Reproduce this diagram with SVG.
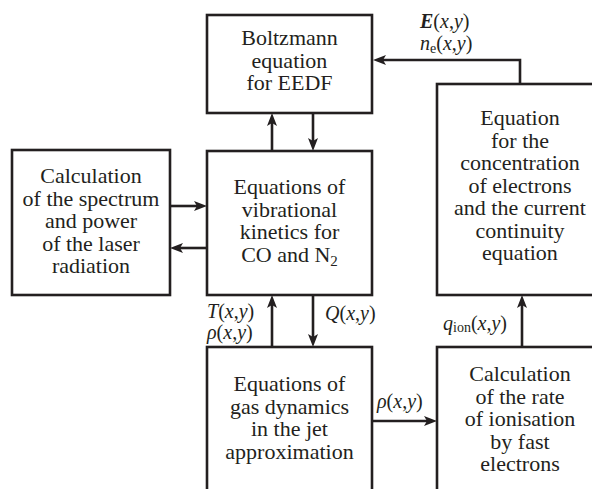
<svg xmlns="http://www.w3.org/2000/svg" width="592" height="489" viewBox="0 0 592 489">
<style>
.box{fill:#fff;stroke:#231f20;stroke-width:2.6}
.t{font-family:'Liberation Serif','DejaVu Serif','Times New Roman',serif;font-size:22px;fill:#231f20;text-anchor:middle}
.l{font-family:'Liberation Serif','DejaVu Serif','Times New Roman',serif;font-size:20px;fill:#231f20}
.c{fill:none;stroke:#231f20;stroke-width:2.6}
</style>
<defs>
<marker id="ah" markerUnits="userSpaceOnUse" markerWidth="14" markerHeight="11" refX="3" refY="5" orient="auto" viewBox="0 0 14 10">
<path d="M0,0 L13,5 L0,10 L3,5 Z" fill="#231f20"/>
</marker>
</defs>
<rect width="592" height="489" fill="#fff"/>
<g id="connectors">
<path class="c" d="M313,113 V141" marker-end="url(#ah)"/>
<path class="c" d="M272,151 V123" marker-end="url(#ah)"/>
<path class="c" d="M520,84 V60 H383" marker-end="url(#ah)"/>
<path class="c" d="M170,206 H197" marker-end="url(#ah)"/>
<path class="c" d="M207,248 H180" marker-end="url(#ah)"/>
<path class="c" d="M313,295 V337" marker-end="url(#ah)"/>
<path class="c" d="M272,347 V305" marker-end="url(#ah)"/>
<path class="c" d="M372,421 H427" marker-end="url(#ah)"/>
<path class="c" d="M522,347 V305" marker-end="url(#ah)"/>
</g>
<g id="boltzmann">
<rect class="box" x="207" y="15" width="165" height="98"/>
<text class="t" font-family="Liberation Serif, serif"><tspan x="289.5" y="45">Boltzmann</tspan><tspan x="289.5" y="67.5">equation</tspan><tspan x="289.5" y="90">for EEDF</tspan></text>
</g>
<g id="laser">
<rect class="box" x="12" y="150" width="158" height="145"/>
<text class="t" font-family="Liberation Serif, serif"><tspan x="91" y="183">Calculation</tspan><tspan x="91" y="205.5">of the spectrum</tspan><tspan x="91" y="228">and power</tspan><tspan x="91" y="250.5">of the laser</tspan><tspan x="91" y="273">radiation</tspan></text>
</g>
<g id="kinetics">
<rect class="box" x="207" y="151" width="165" height="144"/>
<text class="t" font-family="Liberation Serif, serif"><tspan x="289.5" y="194">Equations of</tspan><tspan x="289.5" y="216.5">vibrational</tspan><tspan x="289.5" y="239">kinetics for</tspan><tspan x="289.5" y="261.5">CO and N<tspan font-size="15" dy="4">2</tspan></tspan></text>
</g>
<g id="electrons">
<rect class="box" x="437" y="84" width="200" height="211"/>
<text class="t" font-family="Liberation Serif, serif"><tspan x="520" y="125">Equation</tspan><tspan x="520" y="147.5">for the</tspan><tspan x="520" y="170">concentration</tspan><tspan x="520" y="192.5">of electrons</tspan><tspan x="520" y="215">and the current</tspan><tspan x="520" y="237.5">continuity</tspan><tspan x="520" y="260">equation</tspan></text>
</g>
<g id="gasdynamics">
<rect class="box" x="207" y="347" width="165" height="200"/>
<text class="t" font-family="Liberation Serif, serif"><tspan x="289.5" y="391">Equations of</tspan><tspan x="289.5" y="413.5">gas dynamics</tspan><tspan x="289.5" y="436">in the jet</tspan><tspan x="289.5" y="458.5">approximation</tspan></text>
</g>
<g id="ionisation">
<rect class="box" x="437" y="347" width="200" height="200"/>
<text class="t" font-family="Liberation Serif, serif"><tspan x="520" y="381">Calculation</tspan><tspan x="520" y="403.5">of the rate</tspan><tspan x="520" y="426">of ionisation</tspan><tspan x="520" y="448.5">by fast</tspan><tspan x="520" y="471">electrons</tspan></text>
</g>
<g id="labels" font-family="Liberation Serif, serif">
<text class="l" x="420" y="28"><tspan font-style="italic" font-weight="bold">E</tspan>(<tspan font-style="italic">x</tspan>,<tspan font-style="italic">y</tspan>)</text>
<text class="l" x="420" y="50"><tspan font-style="italic">n</tspan><tspan font-size="14" dy="3">e</tspan><tspan dy="-3">(</tspan><tspan font-style="italic">x</tspan>,<tspan font-style="italic">y</tspan>)</text>
<text class="l" x="207" y="318" font-size="19"><tspan font-style="italic">T</tspan>(<tspan font-style="italic">x</tspan>,<tspan font-style="italic">y</tspan>)</text>
<text class="l" x="207" y="339" font-size="19"><tspan font-style="italic">ρ</tspan>(<tspan font-style="italic">x</tspan>,<tspan font-style="italic">y</tspan>)</text>
<text class="l" x="325" y="320"><tspan font-style="italic">Q</tspan>(<tspan font-style="italic">x</tspan>,<tspan font-style="italic">y</tspan>)</text>
<text class="l" x="377" y="408"><tspan font-style="italic">ρ</tspan>(<tspan font-style="italic">x</tspan>,<tspan font-style="italic">y</tspan>)</text>
<text class="l" x="443" y="330"><tspan font-style="italic">q</tspan><tspan font-size="14" dy="2">ion</tspan><tspan dy="-2">(</tspan><tspan font-style="italic">x</tspan>,<tspan font-style="italic">y</tspan>)</text>
</g>
</svg>
